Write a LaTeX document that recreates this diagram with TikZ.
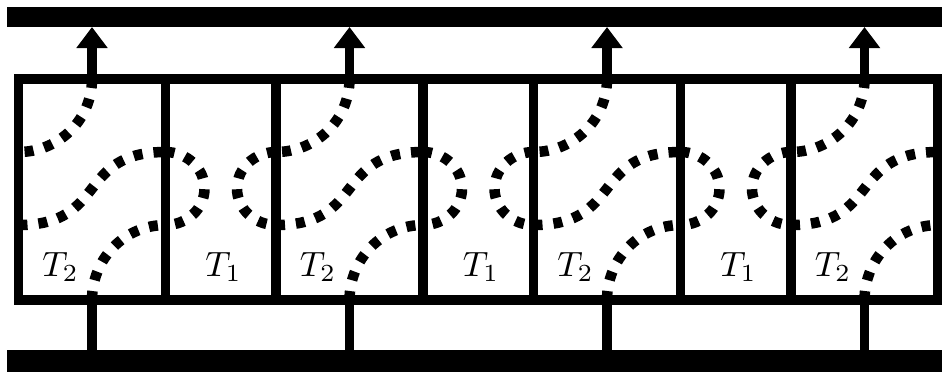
\documentclass[tikz,border=0pt]{standalone}
\usetikzlibrary{arrows.meta}
\tikzset{
  wall/.style={line width=0.095cm},
  strand/.style={line width=0.105cm,dash pattern=on 0.09cm off 0.11cm},
  lbl/.style={font=\fontsize{9.6}{11}\selectfont,anchor=base,inner sep=0pt}
}
\begin{document}
\begin{tikzpicture}[scale=1.0]
\useasboundingbox (0,0) rectangle (9.42,3.71);
\fill (0.07,3.44) rectangle (9.6,3.64);
\fill (0.07,-0.1) rectangle (9.6,0.21);
\draw[wall] (0.185,0.71) rectangle (9.375,2.92);
\foreach \i in {0,1,2,3}{
  \pgfmathsetmacro\xa{0.185+2.575*\i}
  \coordinate (top\i) at (\xa+0.735,2.92);
  \coordinate (bar\i) at (\xa+0.735,3.44);
  \coordinate (bot\i) at (\xa+0.735,0.71);
  \coordinate (floor\i) at (\xa+0.735,0.21);
  \draw[wall,-{Triangle[width=0.3cm,length=0.21cm]}] (top\i)--(bar\i);
  \draw[wall] (bot\i)--(floor\i);
  \draw[strand] (top\i) to[out=-90,in=0] (\xa,2.19);
  \draw[strand] (\xa,1.46) to[out=0,in=180,looseness=1.4] (\xa+1.47,2.19);
  \draw[strand] (bot\i) to[out=90,in=180] (\xa+1.47,1.46);
  \node[lbl] (ttwo\i) at (\xa+0.42,0.945) {$T_2$};
}
\foreach \i in {0,1,2}{
  \pgfmathsetmacro\xa{0.185+2.575*\i}
  \draw[wall] (\xa+1.47,0.71)--(\xa+1.47,2.92);
  \draw[wall] (\xa+2.575,0.71)--(\xa+2.575,2.92);
  \draw[strand] (\xa+1.47,2.19) arc[start angle=90,end angle=-90,x radius=0.39,y radius=0.365];
  \draw[strand] (\xa+2.575,2.19) arc[start angle=90,end angle=270,x radius=0.39,y radius=0.365];
  \node[lbl] (tone\i) at (\xa+2.05,0.945) {$T_1$};
}
\end{tikzpicture}
\end{document}
